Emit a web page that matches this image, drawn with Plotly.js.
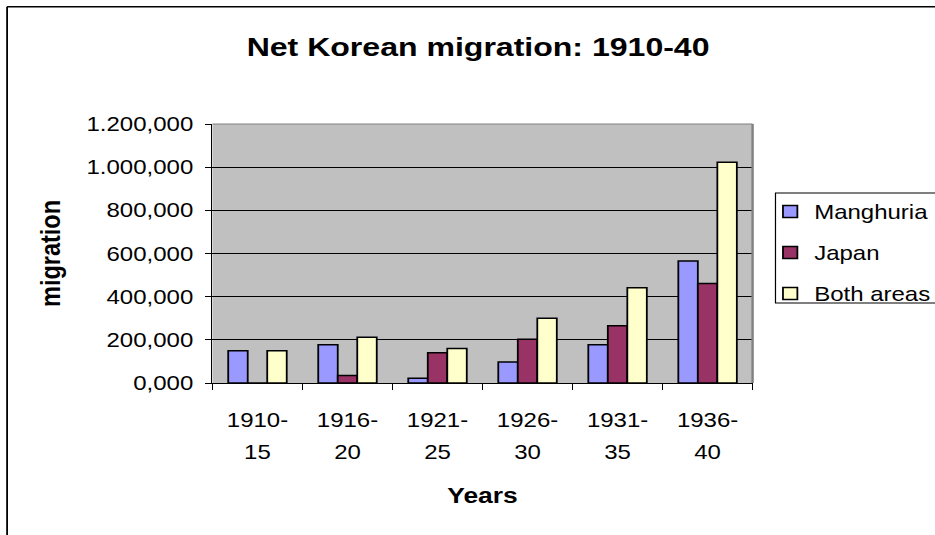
<!DOCTYPE html>
<html>
<head>
<meta charset="utf-8">
<script src="https://cdn.plot.ly/plotly-3.0.1.min.js"></script>
<style>
  html, body { margin: 0; padding: 0; background: #fff; overflow: hidden; }
  #chart { width: 779px; height: 535px; transform: scaleX(1.2003); transform-origin: 0 0; }
</style>
</head>
<body>
<div id="chart"></div>
<script>
// ---- data ----
const periods = ["1910-15", "1916-20", "1921-25", "1926-30", "1931-35", "1936-40"];
const tickLine1 = ["1910-", "1916-", "1921-", "1926-", "1931-", "1936-"];
const tickLine2 = ["15", "20", "25", "30", "35", "40"];
const seriesNames = ["Manghuria", "Japan", "Both areas"];
const manchuria = [150000, 177000, 22000, 97000, 177000, 565000];
const japan = [0, 35000, 140000, 203000, 265000, 461000];
const bothAreas = [150000, 212000, 160000, 300000, 441000, 1023000];
const yTickVals = [0, 200000, 400000, 600000, 800000, 1000000, 1200000];
const yTickText = ["0,000", "200,000", "400,000", "600,000", "800,000", "1.000,000", "1.200,000"];

const colors = ["#9999FF", "#993366", "#FFFFCC"];
const seriesValues = [manchuria, japan, bothAreas];
const FONT = "Liberation Sans, Arial, sans-serif";

const traces = seriesValues.map((vals, i) => ({
  type: "bar",
  name: seriesNames[i],
  x: periods,
  y: vals,
  legendgroup: "g" + i,
  marker: { color: colors[i], line: { color: "#000", width: 1.5 } },
  hoverinfo: "x+y+name"
}));
// helper trace for second tick-label line
traces.push({
  type: "scatter", x: [0], y: [0], xaxis: "x2", yaxis: "y",
  mode: "markers", marker: { opacity: 0 }, showlegend: false, hoverinfo: "skip"
});

const layout = {
  width: 779,
  height: 535,
  margin: { l: 176.7, r: 152.3, t: 124, b: 152 },
  paper_bgcolor: "#ffffff",
  plot_bgcolor: "#C0C0C0",
  font: { family: FONT, color: "#000", size: 20 },
  title: {
    text: "Net Korean migration: 1910-40",
    font: { family: FONT, size: 26.7, weight: "bold", color: "#000" },
    x: 0.5113, xanchor: "center", xref: "container",
    y: 1 - 47 / 535, yanchor: "middle", yref: "container"
  },
  barmode: "group",
  bargap: 0.35,
  bargroupgap: 0,
  xaxis: {
    type: "category",
    range: [-0.5, 5.5],
    tickmode: "array",
    tickvals: periods,
    ticktext: tickLine1,
    tickson: "boundaries",
    ticks: "outside", ticklen: 6, tickcolor: "#000", tickwidth: 1,
    showline: true, linecolor: "#000", linewidth: 1,
    showgrid: false, zeroline: false,
    tickfont: { family: FONT, size: 20, color: "#000" },
    ticklabelstandoff: 19,
    title: { text: "Years", font: { family: FONT, size: 22, weight: "bold", color: "#000" }, standoff: 57 },
    automargin: true,
    fixedrange: true
  },
  xaxis2: {
    overlaying: "x", anchor: "y", side: "bottom",
    type: "linear", range: [-0.5, 5.5],
    tickmode: "array", tickvals: [0, 1, 2, 3, 4, 5], ticktext: tickLine2,
    ticks: "", showline: false, showgrid: false, zeroline: false,
    tickfont: { family: FONT, size: 20, color: "#000" },
    ticklabelstandoff: 55,
    fixedrange: true
  },
  yaxis: {
    range: [0, 1200000],
    tickmode: "array",
    tickvals: yTickVals,
    ticktext: yTickText,
    ticks: "outside", ticklen: 5, tickcolor: "#000", tickwidth: 1,
    showline: true, linecolor: "#000", linewidth: 1,
    showgrid: true, gridcolor: "#000", gridwidth: 1,
    zeroline: false,
    tickfont: { family: FONT, size: 20, color: "#000" },
    ticklabelstandoff: 6,
    title: { text: "migration", font: { family: FONT, size: 23.5, weight: "bold", color: "#000" }, standoff: 14 },
    automargin: true,
    fixedrange: true
  },
  showlegend: true,
  legend: {
    xref: "container", yref: "container",
    x: 0.8194, xanchor: "left", y: 1 - 192 / 535, yanchor: "top",
    traceorder: "grouped", tracegroupgap: 12,
    font: { family: FONT, size: 20, color: "#000" },
    bgcolor: "rgba(0,0,0,0)", borderwidth: 0,
    itemclick: false, itemdoubleclick: false
  },
  shapes: [
    // plot area border (top, right)
    { type: "line", xref: "paper", yref: "paper", x0: 0, x1: 1, y0: 1, y1: 1, line: { color: "#808080", width: 1 } },
    { type: "line", xref: "paper", yref: "paper", x0: 1, x1: 1, y0: 0, y1: 1, line: { color: "#808080", width: 2 } },
    // legend box
    { type: "rect", xref: "paper", yref: "paper", x0: 1.0424, x1: 1.40, y0: 0.309, y1: 0.7336, line: { color: "#000", width: 1 } },
    // outer chart border (left, top)
    { type: "line", xref: "paper", yref: "paper", x0: -0.3802, x1: -0.3802, y0: -1, y1: 1.453, line: { color: "#000", width: 1.5 } },
    { type: "line", xref: "paper", yref: "paper", x0: -0.3802, x1: 1.5, y0: 1.453, y1: 1.453, line: { color: "#000", width: 1.5 } }
  ]
};

Plotly.newPlot("chart", traces, layout, { displayModeBar: false, responsive: false });
</script>
</body>
</html>
